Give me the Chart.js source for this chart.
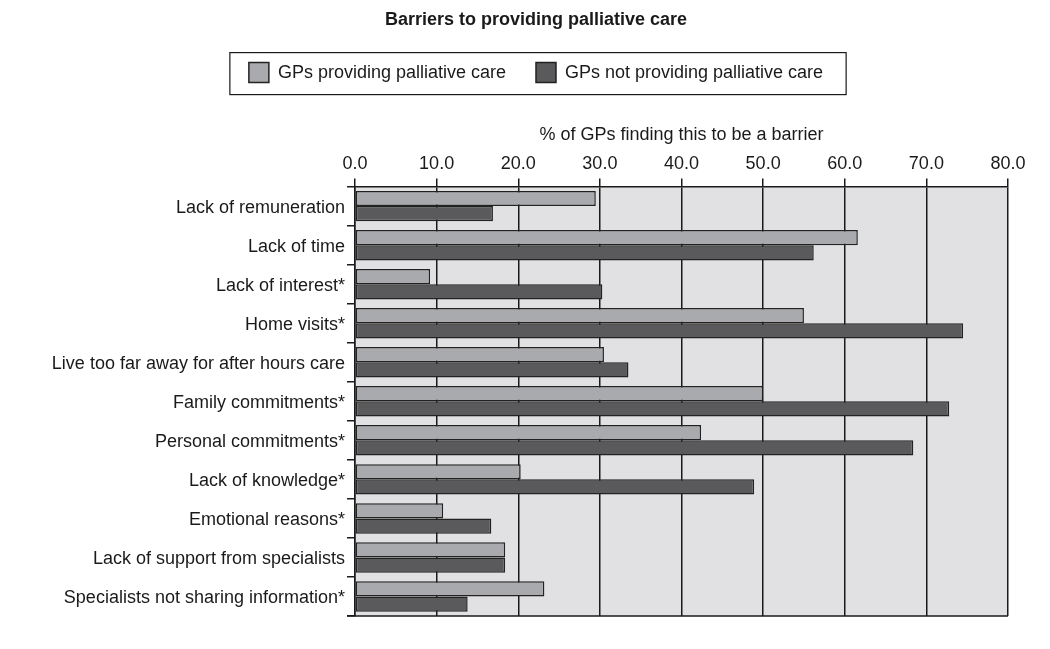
<!DOCTYPE html>
<html>
  <head>
    <meta charset="utf-8">
    <title>Barriers to providing palliative care</title>
    <style>
      html, body { margin: 0; padding: 0; background: #fff; }
      #frame { width: 1050px; height: 649px; }
    </style>
  </head>
  <body>
    <div id="frame">
      <canvas id="chart" width="1050" height="649"></canvas>
    </div>

    <script src="https://cdn.jsdelivr.net/npm/chart.js"></script>
    <script>
      const categories = [
        'Lack of remuneration',
        'Lack of time',
        'Lack of interest*',
        'Home visits*',
        'Live too far away for after hours care',
        'Family commitments*',
        'Personal commitments*',
        'Lack of knowledge*',
        'Emotional reasons*',
        'Lack of support from specialists',
        'Specialists not sharing information*'
      ];
      const providing = [29.5, 61.6, 9.2, 55.0, 30.5, 50.0, 42.4, 20.3, 10.8, 18.4, 23.2];
      const notProviding = [16.9, 56.2, 30.3, 74.5, 33.5, 72.8, 68.4, 48.9, 16.7, 18.4, 13.8];
      const seriesNames = ['GPs providing palliative care', 'GPs not providing palliative care'];

      const font = "'Liberation Sans', Arial, Helvetica, sans-serif";
      const ink = '#1a1a1a';

      // grey plot background (under the grid) and the bottom edge
      const plotFrame = {
        id: 'plotFrame',
        afterLayout(chart) {
          // long y labels spill into the left padding; don't clip them
          chart.scales.y.left = 0;
        },
        beforeDraw(chart) {
          const a = chart.chartArea, ctx = chart.ctx;
          ctx.save();
          ctx.fillStyle = '#e1e1e3';
          ctx.fillRect(a.left, a.top, a.right - a.left, a.bottom - a.top);
          ctx.restore();
        },
        afterDraw(chart) {
          const a = chart.chartArea, ctx = chart.ctx;
          ctx.save();
          ctx.strokeStyle = ink;
          ctx.lineWidth = 1.5;
          ctx.beginPath();
          ctx.moveTo(a.left - 8, a.bottom);
          ctx.lineTo(a.right, a.bottom);
          ctx.stroke();
          ctx.restore();
        }
      };

      // box around the legend
      const legendBox = {
        id: 'legendBox',
        afterDraw(chart) {
          const hb = chart.legend.legendHitBoxes;
          if (!hb || !hb.length) return;
          const first = hb[0], last = hb[hb.length - 1];
          const left = first.left - 19, right = last.left + last.width + 23;
          const ctx = chart.ctx;
          ctx.save();
          ctx.strokeStyle = ink;
          ctx.lineWidth = 1.2;
          ctx.strokeRect(left, first.top - 10, right - left, 42);
          ctx.restore();
        }
      };

      new Chart(document.getElementById('chart'), {
        type: 'bar',
        data: {
          labels: categories,
          datasets: [
            {
              label: seriesNames[0],
              data: providing,
              backgroundColor: '#a9aaad',
              borderColor: '#222',
              borderWidth: 1.5
            },
            {
              label: seriesNames[1],
              data: notProviding,
              backgroundColor: '#5a5a5c',
              borderColor: '#222',
              borderWidth: 1.5
            }
          ]
        },
        options: {
          indexAxis: 'y',
          responsive: false,
          animation: false,
          devicePixelRatio: 1,
          layout: { padding: { left: 64, right: 42, top: 0, bottom: 33 } },
          datasets: {
            bar: { categoryPercentage: 0.78, barPercentage: 1.0, borderSkipped: false }
          },
          plugins: {
            title: {
              display: true,
              text: 'Barriers to providing palliative care',
              color: ink,
              font: { family: font, size: 18, weight: 'bold' },
              padding: { top: 9, bottom: 2 }
            },
            legend: {
              position: 'top',
              labels: {
                color: ink,
                font: { family: font, size: 18 },
                boxWidth: 20,
                boxHeight: 20,
                padding: 30
              }
            },
            tooltip: { enabled: false }
          },
          scales: {
            x: {
              position: 'top',
              min: 0,
              max: 80,
              afterFit(scale) { scale.height = 94; },
              ticks: {
                stepSize: 10,
                color: ink,
                padding: 4,
                font: { family: font, size: 18 },
                callback: v => v.toFixed(1)
              },
              grid: { color: ink, lineWidth: 1.5, tickLength: 8 },
              border: { color: ink, width: 1.5 },
              title: {
                display: true,
                text: '% of GPs finding this to be a barrier',
                color: ink,
                font: { family: font, size: 18 },
                padding: { top: 32, bottom: 8 }
              }
            },
            y: {
              afterFit(scale) { scale.width = 291; },
              ticks: {
                color: ink,
                padding: 2,
                labelOffset: 2,
                font: { family: font, size: 18 }
              },
              grid: { offset: true, drawOnChartArea: false, color: ink, lineWidth: 1.5, tickLength: 8 },
              border: { color: ink, width: 1.5 }
            }
          }
        },
        plugins: [plotFrame, legendBox]
      });
    </script>
  </body>
</html>
